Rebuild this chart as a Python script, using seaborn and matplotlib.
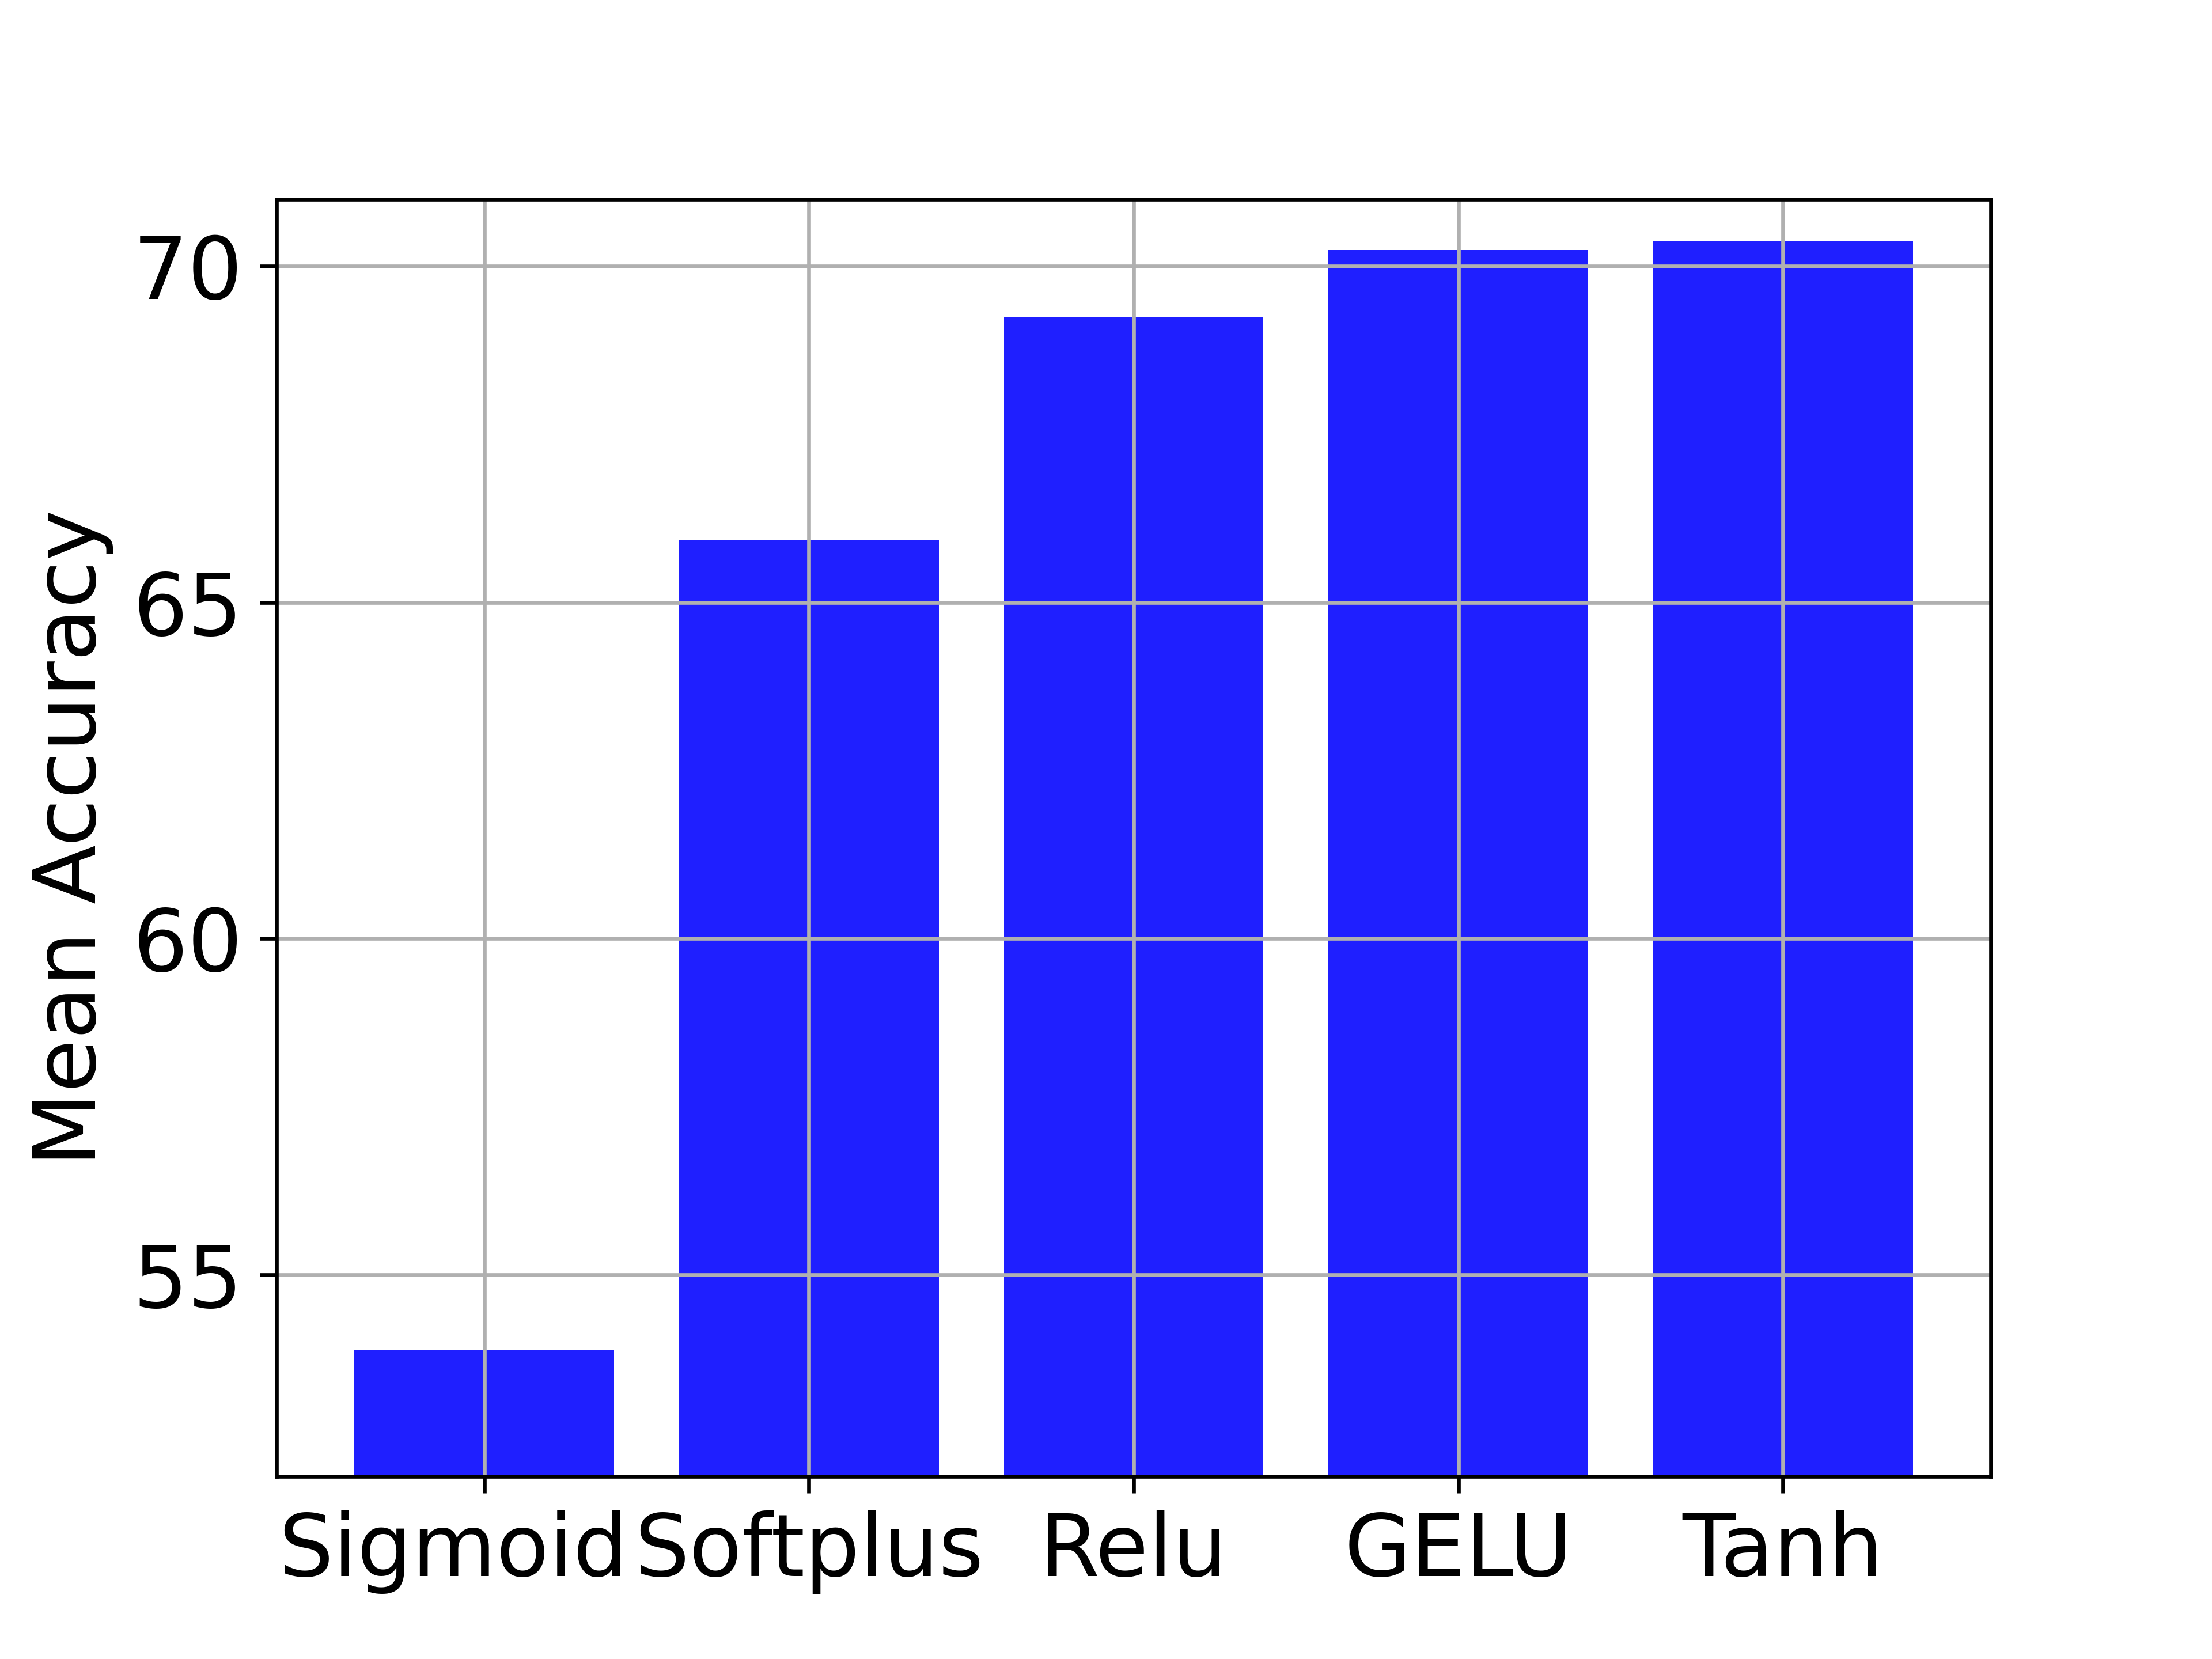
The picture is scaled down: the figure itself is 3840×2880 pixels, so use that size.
import matplotlib
matplotlib.use("Agg")
import matplotlib.pyplot as plt
import matplotlib.transforms as mtransforms
import seaborn as sns

activations = ["Sigmoid", "Softplus", "Relu", "GELU", "Tanh"]
mean_accuracy = [53.89, 65.93, 69.24, 70.24, 70.38]

fig, ax = plt.subplots(figsize=(6.4, 4.8), dpi=600)

sns.barplot(x=activations, y=mean_accuracy, color="blue", alpha=0.88,
            saturation=1, width=0.8, ax=ax)

# plain matplotlib bar margins instead of seaborn's tight categorical limits
ax.set_xlim(-0.64, len(activations) - 1 + 0.64)
ax.set_ylim(52, 71)
ax.set_ylabel("Mean Accuracy", fontsize=18)
ax.set_xlabel("")
ax.tick_params(axis="both", labelsize=18)
ax.grid(True)

# first label sits a little left of its tick in the original
first = ax.get_xticklabels()[0]
shift = mtransforms.ScaledTranslation(-6.5 / 72, 0, fig.dpi_scale_trans)
first.set_transform(first.get_transform() + shift)

plt.savefig("out.png", dpi=600)
